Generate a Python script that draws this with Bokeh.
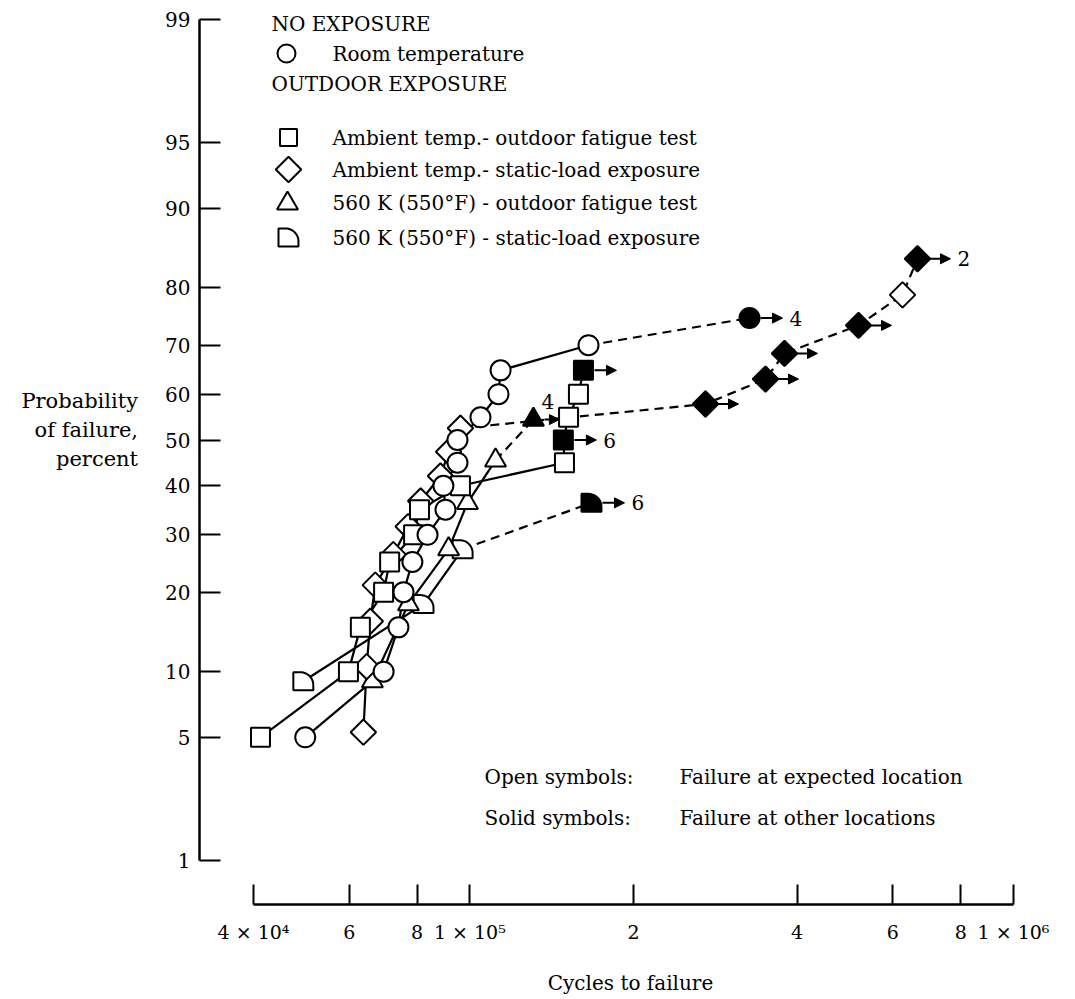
import math
from statistics import NormalDist
from bokeh.plotting import figure
from bokeh.models import (Range1d, FixedTicker, CustomJSTickFormatter, ColumnDataSource,
                          Arrow, NormalHead, LinearScale)
from bokeh.core.properties import value
from bokeh.embed import file_html
from bokeh.resources import INLINE

# ---------------- data ----------------
Y_TICK_PCT = [1, 5, 10, 20, 30, 40, 50, 60, 70, 80, 90, 95, 99]
Y_TICK_LABELS = ["1", "5", "10", "20", "30", "40", "50", "60", "70", "80", "90", "95", "99"]
X_TICKS = [4e4, 6e4, 8e4, 1e5, 2e5, 4e5, 6e5, 8e5, 1e6]
X_TICK_LABELS = ["4 × 10⁴", "6", "8", "1 × 10⁵", "2", "4", "6", "8", "1 × 10⁶"]

# No exposure, room temperature (circles)
room_pct = [5, 10, 15, 20, 25, 30, 35, 40, 45, 50, 55, 60, 65, 70, 75]
room_cycles = [49800, 69400, 73900, 75500, 78400, 83600, 90200, 89400, 94900, 94900,
               104600, 112900, 113900, 165300, 326900]
room_solid = [0, 0, 0, 0, 0, 0, 0, 0, 0, 0, 0, 0, 0, 0, 1]
room_count = ["", "", "", "", "", "", "", "", "", "", "", "", "", "", "4"]

# Ambient temp. - outdoor fatigue test (squares)
sq_pct = [5, 10, 15, 20, 25, 30, 35, 40, 45, 50, 55, 60, 65]
sq_cycles = [41200, 59800, 62900, 69400, 71200, 78800, 80800, 96100, 149300, 148600,
             151900, 158400, 161800]
sq_solid = [0, 0, 0, 0, 0, 0, 0, 0, 0, 1, 0, 0, 1]
sq_count = ["", "", "", "", "", "", "", "", "", "6", "", "", ""]

# Ambient temp. - static-load exposure (diamonds)
dm_pct = [5.3, 10.5, 15.8, 21.1, 26.3, 31.6, 36.8, 42.1, 47.4, 52.6,
          57.9, 63.2, 68.4, 73.7, 78.9, 84.2]
dm_cycles = [63700, 64600, 65600, 67000, 72300, 77000, 81200, 88300, 91400, 96100,
             271300, 349800, 379100, 518700, 624900, 665900]
dm_solid = [0, 0, 0, 0, 0, 0, 0, 0, 0, 0, 1, 1, 1, 1, 0, 1]
dm_count = ["", "", "", "", "", "", "", "", "", "", "", "", "", "", "", "2"]

# 560 K (550 F) - outdoor fatigue test (triangles)
tr_pct = [9.1, 18.2, 27.3, 36.4, 45.5, 54.5]
tr_cycles = [66200, 77100, 91400, 99000, 111500, 130900]
tr_solid = [0, 0, 0, 0, 0, 1]
tr_count = ["", "", "", "", "", "4"]

# 560 K (550 F) - static-load exposure (D symbols)
ds_pct = [9.1, 18.2, 27.3, 36.4]
ds_cycles = [49400, 82200, 97000, 167400]
ds_solid = [0, 0, 0, 1]
ds_count = ["", "", "", "6"]

LEGEND_HEADERS = ["NO EXPOSURE", "OUTDOOR EXPOSURE"]
LEGEND_LABELS = ["Room temperature",
                 "Ambient temp.- outdoor fatigue test",
                 "Ambient temp.- static-load exposure",
                 "560 K (550°F) - outdoor fatigue test",
                 "560 K (550°F) - static-load exposure"]
NOTE_KEYS = ["Open symbols:", "Solid symbols:"]
NOTE_TEXTS = ["Failure at expected location", "Failure at other locations"]

# ---------------- layout ----------------
ND = NormalDist()


def z(pct):
    return ND.inv_cdf(pct / 100.0)


FW, FH = 862, 892
PAGE_TOP = 12          # page y of the frame top
PAGE_LEFT = 199        # page x of the frame left
X_START = 4e4 / 10 ** (54 / 543.66)
X_END = 1e6 * 10 ** (48 / 543.66)
Y_TOP = z(99) + 7 / 180.8
Y_BOTTOM = z(1) - 44 / 180.8
PPD = FW / math.log10(X_END / X_START)   # pixels per decade
PPZ = FH / (Y_TOP - Y_BOTTOM)            # pixels per z unit

SERIF = "DejaVu Serif"
FS = "20px"

p = figure(frame_width=FW, frame_height=FH, x_axis_type="log",
           x_range=Range1d(X_START, X_END), y_range=Range1d(Y_BOTTOM, Y_TOP),
           output_backend="svg", toolbar_location=None,
           min_border_left=PAGE_LEFT, min_border_top=PAGE_TOP, min_border_right=6,
           min_border_bottom=80)
p.outline_line_color = None
p.xgrid.visible = False
p.ygrid.visible = False
p.background_fill_color = "white"
p.border_fill_color = "white"

p.extra_x_ranges = {"lx": Range1d(0, FW)}
p.extra_y_ranges = {"ly": Range1d(0, FH)}
p.extra_x_scales = {"lx": LinearScale()}
p.extra_y_scales = {"ly": LinearScale()}

# ---- y axis (normal probability scale) ----
ya = p.yaxis[0]
ya.ticker = FixedTicker(ticks=[z(v) for v in Y_TICK_PCT], minor_ticks=[])
ya.formatter = CustomJSTickFormatter(args=dict(tv=[z(v) for v in Y_TICK_PCT], lab=Y_TICK_LABELS), code="""
let b = 0;
for (let i = 0; i < tv.length; i++) { if (Math.abs(tv[i] - tick) < Math.abs(tv[b] - tick)) b = i; }
return lab[b];
""")
ya.bounds = (z(1), z(99))
ya.major_tick_in = 21
ya.major_tick_out = 0
ya.minor_tick_in = 0
ya.minor_tick_out = 0
ya.major_tick_line_width = 2
ya.axis_line_width = 2.5
ya.major_label_text_font = SERIF
ya.major_label_text_font_size = FS
ya.major_label_text_color = "black"
ya.major_label_standoff = 9
ya.axis_label = "Probability\nof failure,\npercent\n\n"
ya.axis_label_orientation = "horizontal"
ya.axis_label_text_font = SERIF
ya.axis_label_text_font_size = "21px"
ya.axis_label_text_font_style = "normal"
ya.axis_label_text_color = "black"
ya.axis_label_text_align = "center"
ya.axis_label_standoff = 24

# ---- x axis (log) ----
xa = p.xaxis[0]
xa.ticker = FixedTicker(ticks=X_TICKS, minor_ticks=[])
xa.formatter = CustomJSTickFormatter(args=dict(tv=X_TICKS, lab=X_TICK_LABELS), code="""
let b = 0;
for (let i = 0; i < tv.length; i++) { if (Math.abs(Math.log(tv[i] / tick)) < Math.abs(Math.log(tv[b] / tick))) b = i; }
return lab[b];
""")
xa.bounds = (4e4, 1e6)
xa.major_tick_in = 20
xa.major_tick_out = 0
xa.minor_tick_in = 0
xa.minor_tick_out = 0
xa.major_tick_line_width = 2
xa.axis_line_width = 2.5
xa.major_label_text_font = SERIF
xa.major_label_text_font_size = "19px"
xa.major_label_text_color = "black"
xa.major_label_standoff = 16
xa.axis_label = "Cycles to failure"
xa.axis_label_text_font = SERIF
xa.axis_label_text_font_size = FS
xa.axis_label_text_font_style = "normal"
xa.axis_label_text_color = "black"
xa.axis_label_standoff = 25

LW = 2.2
DASH = "9 6"

series = [
    # name, pct, cycles, solid, count, marker, size, angle, dash_from
    ("ds", ds_pct, ds_cycles, ds_solid, ds_count, "D", 0, 0.0, 2),
    ("tr", tr_pct, tr_cycles, tr_solid, tr_count, "triangle", 21, 0.0, 4),
    ("dm", dm_pct, dm_cycles, dm_solid, dm_count, "square", 18, math.pi / 4, 9),
    ("sq", sq_pct, sq_cycles, sq_solid, sq_count, "square", 19, 0.0, None),
    ("room", room_pct, room_cycles, room_solid, room_count, "circle", 20, 0.0, 13),
]

# lines first
for name, pct, cyc, solid, cnt, mk, sz, ang, dash_from in series:
    zs = [z(v) for v in pct]
    if dash_from is None:
        p.line(cyc, zs, line_color="black", line_width=LW)
    else:
        p.line(cyc[:dash_from + 1], zs[:dash_from + 1], line_color="black", line_width=LW)
        p.line(cyc[dash_from:], zs[dash_from:], line_color="black", line_width=LW, line_dash=DASH)


def d_shape_offsets():
    pts = [(-10, -9), (-10, 9), (-3, 9)]
    for k in range(1, 14):
        a = math.pi / 2 * (1 - k / 14)
        pts.append((-3 + 13 * math.cos(a), -4 + 13 * math.sin(a)))
    pts.append((10, -9))
    return pts


D_PTS = d_shape_offsets()

# markers
for name, pct, cyc, solid, cnt, mk, sz, ang, dash_from in series:
    zs = [z(v) for v in pct]
    fills = ["black" if s else "white" for s in solid]
    if mk == "D":
        xs = [[c * 10 ** (dx / PPD) for dx, dy in D_PTS] for c in cyc]
        ys = [[zz + dy / PPZ for dx, dy in D_PTS] for zz in zs]
        p.patches(xs, ys, fill_color=fills, line_color="black", line_width=2)
    else:
        src = ColumnDataSource(dict(x=cyc, y=zs, f=fills))
        p.scatter("x", "y", source=src, marker=mk, size=sz, angle=ang,
                  fill_color="f", line_color="black", line_width=2)

# runout arrows and counts
ARROW_START = 11
ARROW_TIP = 33
for name, pct, cyc, solid, cnt, mk, sz, ang, dash_from in series:
    idx = [i for i, s in enumerate(solid) if s]
    if not idx:
        continue
    xs0 = [cyc[i] * 10 ** (ARROW_START / PPD) for i in idx]
    xs1 = [cyc[i] * 10 ** ((ARROW_TIP if name != "tr" else 26) / PPD) for i in idx]
    ys = [z(pct[i]) for i in idx]
    asrc = ColumnDataSource(dict(x0=xs0, x1=xs1, y0=ys, y1=ys))
    p.add_layout(Arrow(source=asrc, x_start="x0", y_start="y0", x_end="x1", y_end="y1",
                       line_color="black", line_width=2,
                       end=NormalHead(size=10, fill_color="black", line_color="black")))
    lab_idx = [i for i in idx if cnt[i]]
    if lab_idx:
        if name == "tr":
            tx = [cyc[i] for i in lab_idx]
            xo, yo = 8, -18
        else:
            tx = [cyc[i] * 10 ** (ARROW_TIP / PPD) for i in lab_idx]
            xo, yo = 7, 0
        p.text(tx, [z(pct[i]) for i in lab_idx], text=[cnt[i] for i in lab_idx],
               x_offset=xo, y_offset=yo, text_align="left", text_baseline="middle",
               text_font=value(SERIF), text_font_size=value(FS), text_color="black")

# ---------------- legend (frame pixel coordinates) ----------------
def lx(px):
    return px - PAGE_LEFT


def ly(py):
    return PAGE_TOP + FH - py


p.text([lx(271), lx(271)], [ly(23), ly(83)], text=LEGEND_HEADERS,
       x_range_name="lx", y_range_name="ly", text_align="left", text_baseline="middle",
       text_font=value(SERIF), text_font_size=value(FS), text_color="black")
leg_y = [53, 137, 169, 202, 237]
p.text([lx(332)] * 5, [ly(v) for v in leg_y], text=LEGEND_LABELS,
       x_range_name="lx", y_range_name="ly", text_align="left", text_baseline="middle",
       text_font=value(SERIF), text_font_size=value(FS), text_color="black")
p.scatter([lx(286)], [ly(53)], marker="circle", size=18, fill_color="white",
          line_color="black", line_width=2, x_range_name="lx", y_range_name="ly")
p.scatter([lx(288)], [ly(137)], marker="square", size=17, fill_color="white",
          line_color="black", line_width=2, x_range_name="lx", y_range_name="ly")
p.scatter([lx(288)], [ly(169)], marker="square", size=18, angle=math.pi / 4, fill_color="white",
          line_color="black", line_width=2, x_range_name="lx", y_range_name="ly")
p.scatter([lx(287)], [ly(203)], marker="triangle", size=21, fill_color="white",
          line_color="black", line_width=2, x_range_name="lx", y_range_name="ly")
p.patches([[lx(288) + dx for dx, dy in D_PTS]], [[ly(237) + dy for dx, dy in D_PTS]],
          fill_color="white", line_color="black", line_width=2,
          x_range_name="lx", y_range_name="ly")

# notes
p.text([lx(484), lx(484)], [ly(776), ly(817)], text=NOTE_KEYS,
       x_range_name="lx", y_range_name="ly", text_align="left", text_baseline="middle",
       text_font=value(SERIF), text_font_size=value(FS), text_color="black")
p.text([lx(679), lx(679)], [ly(776), ly(817)], text=NOTE_TEXTS,
       x_range_name="lx", y_range_name="ly", text_align="left", text_baseline="middle",
       text_font=value(SERIF), text_font_size=value(FS), text_color="black")

open("out.html", "w").write(file_html(p, INLINE))
